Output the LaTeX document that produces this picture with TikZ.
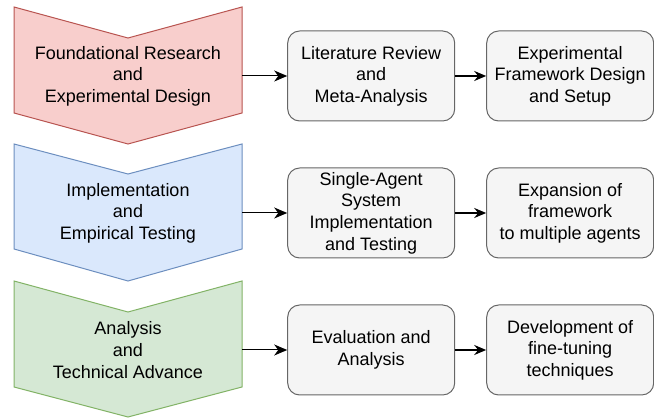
\documentclass[tikz,border=0pt]{standalone}
\usepackage{fontspec}
\setmainfont{Liberation Sans}
\usetikzlibrary{positioning, arrows.meta}

\definecolor{redfill}{HTML}{F8CECC}
\definecolor{redline}{HTML}{B85450}
\definecolor{bluefill}{HTML}{DAE8FC}
\definecolor{blueline}{HTML}{6C8EBF}
\definecolor{greenfill}{HTML}{D5E8D4}
\definecolor{greenline}{HTML}{82B366}
\definecolor{boxfill}{HTML}{F5F5F5}
\definecolor{boxline}{HTML}{666666}

\tikzset{
    phasetext/.style={minimum width=228pt, minimum height=90pt, inner sep=0pt, align=center, font=\fontsize{18}{21.6}\selectfont},
    taskbox/.style={draw=boxline, fill=boxfill, line width=1pt, rounded corners=12pt, minimum width=167pt, minimum height=90pt, inner sep=0pt, align=center, font=\fontsize{18}{21.6}\selectfont},
    flow/.style={line width=1pt, -{Stealth[length=13pt, width=11pt, inset=4pt]}},
    boldflow/.style={line width=2pt, -{Stealth[length=12pt, width=10pt, inset=4pt]}}
}

\begin{document}
\begin{tikzpicture}[x=1pt, y=-1pt]
                \useasboundingbox (0, 0) rectangle (654, 419);
                % phase chevrons
                \filldraw[fill=redfill, draw=redline, line width=1pt] (14, 7) -- (128, 38) -- (242, 7) -- (242, 113) -- (128, 144) -- (14, 113) -- cycle;
                \filldraw[fill=bluefill, draw=blueline, line width=1pt] (14, 144) -- (128, 174) -- (242, 144) -- (242, 249) -- (128, 281) -- (14, 249) -- cycle;
                \filldraw[fill=greenfill, draw=greenline, line width=1pt] (14, 281) -- (128, 312) -- (242, 281) -- (242, 387) -- (128, 417) -- (14, 387) -- cycle;
                \node (research) at (128, 76) [phasetext] {Foundational Research\\and\\Experimental Design};
                \node (testing) at (128, 213) [phasetext] {Implementation\\and\\Empirical Testing};
                \node (advance) at (128, 350) [phasetext] {Analysis\\and\\Technical Advance};
                % tasks
                \node (review) [taskbox, right=45pt of research] {Literature Review\\and\\Meta-Analysis};
                \node (setup) [taskbox, right=31pt of review] {Experimental\\Framework Design\\and Setup};
                \node (single) [taskbox, right=45pt of testing] {Single-Agent\\System\\Implementation\\and Testing};
                \node (multi) [taskbox, right=31pt of single] {Expansion of\\framework\\to multiple agents};
                \node (evaluation) [taskbox, right=45pt of advance] {Evaluation and\\Analysis};
                \node (finetune) [taskbox, right=31pt of evaluation] {Development of\\fine-tuning\\techniques};
                \draw[flow] (research) -- (review);
                \draw[boldflow] (review) -- (setup);
                \draw[flow] (testing) -- (single);
                \draw[boldflow] (single) -- (multi);
                \draw[flow] (advance) -- (evaluation);
                \draw[boldflow] (evaluation) -- (finetune);
            \end{tikzpicture}
\end{document}
